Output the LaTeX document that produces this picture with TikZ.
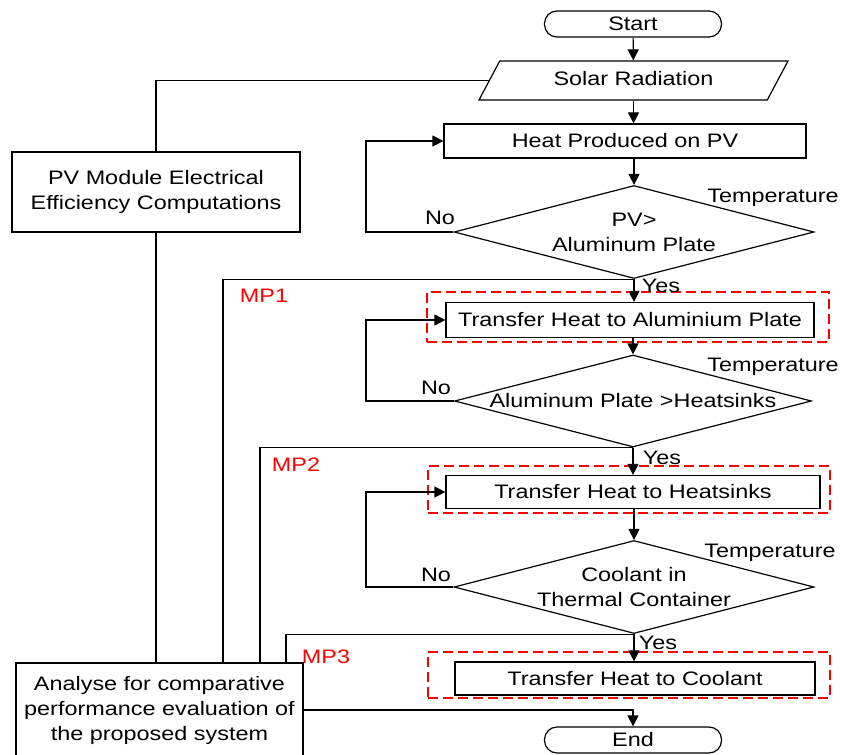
\documentclass[tikz,border=0pt]{standalone}
\usepackage{fontspec}
\setmainfont{Liberation Sans}[FakeStretch=1.2]
\usepackage{tikz}
\usetikzlibrary{shapes}
\usetikzlibrary{shapes.geometric}
\usetikzlibrary{arrows.meta}
\newcommand{\flowfont}{\fontsize{19.5}{25}\selectfont}
\tikzset{
    termnode/.style = {rectangle, rounded corners=12.5pt, draw=black, line width=1.2pt, minimum width=177, minimum height=26, inner sep=0, align=center},
    ionode/.style = {trapezium, trapezium left angle=62, trapezium right angle=118, trapezium stretches body=true, draw=black, line width=1.2pt, minimum width=309, text height=14pt, text depth=4pt, inner xsep=0, inner ysep=10.5pt},
    procnode/.style = {rectangle, draw=black, line width=1.2pt, inner sep=0, align=center},
    decnode/.style = {diamond, draw=black, line width=1.2pt, minimum width=360, minimum height=93, inner sep=0},
    mpbox/.style = {rectangle, draw=red, line width=1.3pt, dash pattern=on 10pt off 5pt, minimum width=402, inner sep=0},
    mptext/.style = {text=red, inner sep=0},
    plain/.style = {inner sep=0},
    edgen/.style = {-, line width=1.2pt, black},
    edgea/.style = {-{Triangle[length=11pt,width=11pt]}, line width=1.2pt, black},
    every picture/.style={font issue=\flowfont},
    font issue/.style={execute at begin picture={#1}}
}
\begin{document}
\begin{tikzpicture}[x=1pt,y=-1pt]
\clip (0,0) rectangle (842,754);
%
\node[termnode] at (633,24) (start) {Start};
\node[ionode] at (633.5,80.5) (solar) {Solar Radiation};
\node[procnode, minimum width=362, minimum height=34] at (625,141) (heat) {Heat Produced on PV};
\node[decnode, label={[align=center]center:PV>\\Aluminum Plate}] at (634,232) (d1) {};
\node[mpbox, minimum height=50] at (628,317) (box1) {};
\node[procnode, minimum width=368, minimum height=35] at (630,320) (alu) {Transfer Heat to Aluminium Plate};
\node[decnode, minimum width=357, minimum height=92, label={center:Aluminum Plate >Heatsinks}] at (633,401) (d2) {};
\node[mpbox, minimum height=47] at (629,489.5) (box2) {};
\node[procnode, minimum width=374, minimum height=33] at (633,492) (sink) {Transfer Heat to Heatsinks};
\node[decnode, label={[align=center]center:Coolant in\\Thermal Container}] at (634,587) (d3) {};
\node[mpbox, minimum height=46] at (629,675) (box3) {};
\node[procnode, minimum width=360, minimum height=33] at (635,678.5) (cool) {Transfer Heat to Coolant};
\node[termnode] at (633,740) (end) {End};
%
\node[procnode, minimum width=288, minimum height=80] at (156,192) (pv) {PV Module Electrical\\Efficiency Computations};
\node[procnode, minimum width=287, minimum height=94] at (159.5,710) (analyse) {Analyse for comparative\\performance evaluation of\\the proposed system};
%
\node[plain] at (773,198) (t1) {Temperature};
\node[plain] at (773,367) (t2) {Temperature};
\node[plain] at (770,553) (t3) {Temperature};
\node[plain] at (440,218) (no1) {No};
\node[plain] at (436,388) (no2) {No};
\node[plain] at (436,575) (no3) {No};
\node[plain] at (661,286) (yes1) {Yes};
\node[plain] at (662,458) (yes2) {Yes};
\node[plain] at (658,643) (yes3) {Yes};
\node[mptext] at (264,296) (mp1) {MP1};
\node[mptext] at (296,465) (mp2) {MP2};
\node[mptext] at (326,657) (mp3) {MP3};
%
\coordinate (lp) at (366,0);
\coordinate (m1) at (223,0);
\coordinate (m2) at (260,0);
\coordinate (m3) at (286,0);
%
\draw[edgea] (start) -- (solar);
\draw[edgea] (solar.south) -- (solar.south |- heat.north);
\draw[edgea] (heat.south -| d1.north) -- (d1.north);
\draw[edgea] (d1.west) -- (d1.west -| lp) |- (heat.west);
\draw[edgea] (d1.south) -- (d1.south |- alu.north);
\draw[edgen] (d1.south) -| (m1 |- analyse.north);
\draw[edgea] (alu.south -| d2.north) -- (d2.north);
\draw[edgea] (d2.west) -- (d2.west -| lp) |- (alu.west);
\draw[edgea] (d2.south) -- (d2.south |- sink.north);
\draw[edgen] (d2.south) -| (m2 |- analyse.north);
\draw[edgea] (sink.south -| d3.north) -- (d3.north);
\draw[edgea] (d3.west) -- (d3.west -| lp) |- (sink.west);
\draw[edgea] (d3.south) -- (d3.south |- cool.north);
\draw[edgen] (d3.south) -| (m3 |- analyse.north);
\draw[edgen] (pv.north) |- (solar.west);
\draw[edgen] (pv.south) -- (pv.south |- analyse.north);
\draw[edgea] (analyse.east) -| (end.north);
\end{tikzpicture}
\end{document}
